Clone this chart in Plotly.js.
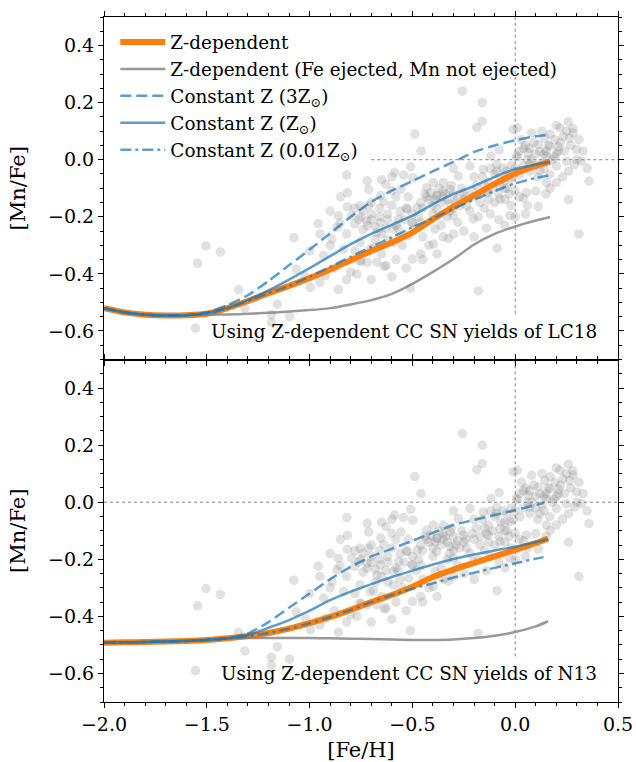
<!DOCTYPE html>
<html>
<head>
<meta charset="utf-8">
<script src="https://cdn.plot.ly/plotly-3.0.1.min.js"></script>
<style>html,body{margin:0;padding:0;background:#fff;}#chart{width:636px;height:762px;}</style>
</head>
<body>
<div id="chart"></div>
<script>
// ---------- data: observed stars ([Fe/H], [Mn/Fe]) ----------
const starFeH = [
-1.555,-1.545,-1.504,-1.434,-1.346,-1.315,-1.185,-1.157,-1.097,-1.077,-1.065,-0.958,-0.86,-0.51,-0.18,-0.088,0.31,0.26,-0.488,-0.458,-0.257,-0.16,-0.16,-0.187,
-0.996,-0.924,-0.932,-1.186,
-0.819,-0.72,-0.587,-0.543,-0.508,-0.498,-0.628,-0.556,-0.713,-0.816,-0.86,-0.852,-0.816,-0.795,-0.755,-0.713,-0.654,-0.64,-0.600,-0.58,-0.398,-0.43,-0.382,-0.477,-0.525,-0.46,-0.518,-0.46,-0.5,-0.628,-0.673,-0.755,-0.8,-0.891,-0.835,-0.867,-0.755,-0.673,-0.657,-0.72,-0.705,-0.592,-0.567,-0.502,-0.592,
-0.637,-0.75,-0.689,0.112,0.04,
-0.01,0.011,0.08,0.217,0.258,0.282,0.298,0.322,0.359,-0.078,-0.118,0.063,0.112,0.168,0.209,0.152,0.2,0.249,0.289,0.168,0.152,0.071,0.006,0.071,0.12,0.023,-0.042,-0.09,-0.155,-0.22,-0.277,-0.349,-0.317,-0.252,-0.131,-0.074,-0.026,-0.001,-0.074,-0.171,-0.236,-0.317,-0.382,-0.301,-0.204,-0.39,-0.398,-0.325,-0.026,0.055,0.265,0.233,0.144,0.193,
-0.41,-0.38,-0.35,-0.33,-0.3,-0.28,-0.26,-0.36,-0.42,-0.31,-0.44,-0.27,
-0.16,-0.13,-0.1,-0.06,-0.04,-0.12,-0.19,-0.08,-0.02,-0.14,-0.2,-0.05,
-0.75,-0.72,-0.7,-0.68,-0.74,-0.78,-0.66,
0.02,0.05,0.1,0.13,0.04,0.09,0.15,0.18,0.0,0.06,0.11,0.2,0.17,0.22,0.24,0.13,0.25,0.27,0.03,0.14,
-0.35,-0.3,-0.25,-0.2,-0.15,-0.1,-0.05,-0.02,-0.12,-0.22,-0.28,-0.33,-0.4,-0.18,-0.08,0.02,0.06,-0.36,
-0.78,-0.74,-0.7,-0.66,-0.62,-0.6,-0.56,-0.54,-0.5,-0.48,-0.58,-0.63,-0.52,-0.46,-0.45,-0.55,-0.62,-0.68,
-0.85,-0.9,-0.82,-0.78,-0.72,-0.65,-0.58,-0.53,-0.45,-0.42,-0.38,-0.35,-0.3,-0.25,-0.2,-0.14,-0.05,0.0,0.05,0.1,0.15,0.17,0.2,0.23,0.26,0.3,0.28,0.2,0.31,0.33,0.35,-0.65,-0.6,-0.3,
-0.9,-0.95,-1.0,-0.88,-0.82,-0.77,-0.7,-0.6,-0.95,-1.02,
-0.43,-0.39,-0.34,-0.29,-0.24,-0.45,-0.37,-0.32,-0.47,-0.4,
0.01,0.04,0.08,0.12,0.16,0.19,0.07,0.1,0.14,0.21,
-0.15,-0.11,-0.07,-0.03,-0.09,-0.17,-0.13,-0.05,-0.01,-0.21,
-0.62,-0.57,-0.53,-0.7,-0.65,-0.76,-0.5,-0.56
];
const starMnFe = [
-0.59,-0.363,-0.302,-0.323,-0.456,-0.521,-0.57,-0.506,-0.55,-0.273,-0.384,-0.224,-0.455,-0.45,-0.46,-0.31,-0.26,-0.14,0.09,0.03,0.24,0.2,0.135,0.114,
-0.447,-0.406,-0.336,-0.543,
-0.054,-0.074,-0.045,-0.054,-0.025,-0.063,-0.086,-0.104,-0.104,-0.116,-0.196,-0.222,-0.165,-0.196,-0.161,-0.161,-0.125,-0.148,-0.109,-0.13,-0.08,-0.098,-0.127,-0.168,-0.173,-0.22,-0.266,-0.33,-0.348,-0.371,-0.359,-0.353,-0.394,-0.278,-0.313,-0.237,-0.29,-0.255,-0.22,-0.231,-0.313,-0.243,-0.208,-0.22,-0.29,
-0.374,-0.356,-0.31,-0.164,-0.135,
0.106,0.112,0.094,0.112,0.133,0.094,0.036,-0.005,-0.075,0.034,0.013,0.024,0.053,0.047,0.045,0.013,-0.022,-0.005,-0.017,-0.051,-0.08,-0.017,0.013,-0.04,-0.04,-0.051,-0.04,-0.017,-0.034,-0.022,-0.057,-0.08,-0.104,-0.115,-0.115,-0.092,-0.069,-0.109,-0.138,-0.15,-0.161,-0.155,-0.173,-0.196,-0.208,-0.243,-0.295,-0.276,-0.196,-0.115,0.076,0.082,0.076,0.07,
-0.115,-0.125,-0.11,-0.14,-0.12,-0.135,-0.1,-0.15,-0.14,-0.09,-0.12,-0.16,
-0.06,-0.08,-0.05,-0.03,-0.1,-0.03,-0.09,-0.12,-0.02,-0.11,-0.06,-0.07,
-0.2,-0.215,-0.19,-0.235,-0.245,-0.225,-0.2,
0.03,0.05,0.02,-0.01,-0.02,0.06,0.03,0.0,-0.03,0.0,-0.06,0.02,0.09,0.06,0.03,0.1,0.1,0.05,0.07,-0.03,
-0.13,-0.17,-0.14,-0.13,-0.17,-0.15,-0.14,-0.16,-0.19,-0.18,-0.22,-0.2,-0.19,-0.2,-0.21,-0.13,-0.16,-0.23,
-0.17,-0.18,-0.15,-0.17,-0.19,-0.16,-0.18,-0.21,-0.19,-0.24,-0.23,-0.24,-0.13,-0.15,-0.27,-0.3,-0.28,-0.28,
-0.13,-0.18,-0.26,-0.32,-0.36,-0.33,-0.35,-0.38,-0.35,-0.3,-0.33,-0.27,-0.26,-0.25,-0.27,-0.24,-0.23,-0.2,-0.19,-0.11,-0.12,-0.1,-0.08,-0.06,-0.04,0.0,0.11,0.12,0.07,0.03,-0.03,-0.07,-0.06,-0.03,
-0.3,-0.26,-0.32,-0.38,-0.42,-0.4,-0.42,-0.41,-0.43,-0.41,
-0.13,-0.14,-0.12,-0.15,-0.13,-0.17,-0.1,-0.18,-0.2,-0.16,
0.01,0.04,0.0,0.03,0.05,0.01,0.04,-0.02,0.02,0.03,
-0.09,-0.1,-0.07,-0.12,-0.04,-0.12,-0.14,-0.1,-0.06,-0.11,
-0.21,-0.24,-0.17,-0.21,-0.26,-0.21,-0.22,-0.27
];

// ---------- model curves, LC18 yields (top panel) ----------
const fehLC_a = [-2.0,-1.9,-1.8,-1.7,-1.6,-1.5,-1.4,-1.3,-1.2,-1.1,-1.0,-0.9,-0.8,-0.7,-0.6,-0.5,-0.4,-0.3,-0.2,-0.1,0.0,0.1,0.17];
const fehLC_b = [-2.0,-1.9,-1.8,-1.7,-1.6,-1.5,-1.4,-1.3,-1.2,-1.1,-1.0,-0.9,-0.8,-0.7,-0.6,-0.5,-0.4,-0.3,-0.2,-0.1,0.0,0.1,0.15];
const lcZdep    = [-0.52,-0.535,-0.543,-0.546,-0.545,-0.54,-0.52,-0.495,-0.468,-0.442,-0.415,-0.385,-0.352,-0.32,-0.29,-0.255,-0.208,-0.165,-0.125,-0.085,-0.048,-0.022,-0.007];
const lcFeOnly  = [-0.52,-0.535,-0.543,-0.546,-0.545,-0.543,-0.542,-0.54,-0.536,-0.532,-0.527,-0.52,-0.507,-0.492,-0.47,-0.435,-0.393,-0.348,-0.297,-0.26,-0.234,-0.213,-0.201];
const lcZ3sun   = [-0.52,-0.535,-0.543,-0.546,-0.545,-0.535,-0.51,-0.475,-0.425,-0.37,-0.315,-0.258,-0.2,-0.148,-0.108,-0.075,-0.04,-0.008,0.027,0.05,0.068,0.082,0.086];
const lcZsun    = [-0.52,-0.535,-0.543,-0.546,-0.545,-0.537,-0.52,-0.492,-0.458,-0.42,-0.38,-0.338,-0.296,-0.26,-0.228,-0.196,-0.156,-0.12,-0.092,-0.06,-0.033,-0.017,-0.007];
const lcZ001sun = [-0.52,-0.535,-0.543,-0.546,-0.545,-0.54,-0.52,-0.495,-0.468,-0.442,-0.41,-0.375,-0.34,-0.305,-0.272,-0.237,-0.205,-0.172,-0.14,-0.11,-0.083,-0.064,-0.054];

// ---------- model curves, N13 yields (bottom panel) ----------
const fehN_a = [-2.0,-1.9,-1.8,-1.7,-1.6,-1.5,-1.4,-1.3,-1.2,-1.1,-1.0,-0.9,-0.8,-0.7,-0.6,-0.5,-0.4,-0.3,-0.2,-0.1,0.0,0.1,0.16];
const fehN_b = [-2.0,-1.9,-1.8,-1.7,-1.6,-1.5,-1.4,-1.3,-1.2,-1.1,-1.0,-0.9,-0.8,-0.7,-0.6,-0.5,-0.4,-0.3,-0.2,-0.1,0.0,0.1,0.14];
const fehN_c = [-2.0,-1.9,-1.8,-1.7,-1.6,-1.5,-1.4,-1.3,-1.2,-1.1,-1.0,-0.9,-0.8,-0.7,-0.6,-0.5,-0.4,-0.3,-0.2,-0.1,0.0,0.1,0.155];
const nZdep    = [-0.492,-0.491,-0.49,-0.488,-0.486,-0.483,-0.477,-0.469,-0.458,-0.443,-0.424,-0.402,-0.377,-0.35,-0.325,-0.296,-0.262,-0.236,-0.213,-0.19,-0.167,-0.143,-0.127];
const nFeOnly  = [-0.492,-0.491,-0.49,-0.488,-0.485,-0.481,-0.477,-0.476,-0.476,-0.476,-0.476,-0.477,-0.478,-0.479,-0.481,-0.483,-0.483,-0.481,-0.476,-0.468,-0.455,-0.435,-0.417];
const nZ3sun   = [-0.492,-0.491,-0.49,-0.488,-0.486,-0.483,-0.477,-0.46,-0.42,-0.37,-0.32,-0.27,-0.226,-0.19,-0.163,-0.135,-0.107,-0.08,-0.062,-0.045,-0.028,-0.01,-0.002];
const nZsun    = [-0.492,-0.491,-0.49,-0.488,-0.486,-0.483,-0.477,-0.465,-0.44,-0.413,-0.38,-0.343,-0.313,-0.287,-0.262,-0.24,-0.218,-0.199,-0.183,-0.169,-0.156,-0.14,-0.13];
const nZ001sun = [-0.492,-0.491,-0.49,-0.488,-0.486,-0.483,-0.477,-0.469,-0.458,-0.443,-0.424,-0.402,-0.377,-0.35,-0.325,-0.303,-0.284,-0.264,-0.247,-0.23,-0.214,-0.198,-0.19];

// ---------- labels ----------
const seriesNames = ['Z-dependent','Z-dependent (Fe ejected, Mn not ejected)','Constant Z (3Z<sub>⊙</sub>)','Constant Z (Z<sub>⊙</sub>)','Constant Z (0.01Z<sub>⊙</sub>)'];
const panelLabels = ['Using Z-dependent CC SN yields of LC18','Using Z-dependent CC SN yields of N13'];
const axisTitles = {x:'[Fe/H]', y:'[Mn/Fe]'};

// ---------- styling ----------
const FONT = 'DejaVu Serif, serif';
const ORANGE = '#ff7f0e';
const GRAY = 'rgba(128,128,128,0.8)';
const BLUE = 'rgba(31,119,180,0.72)';
const styles = [
  {color: ORANGE, width: 6, dash: 'solid'},
  {color: GRAY, width: 2.5, dash: 'solid'},
  {color: BLUE, width: 2.5, dash: '11px,5px'},
  {color: BLUE, width: 2.5, dash: 'solid'},
  {color: BLUE, width: 2.5, dash: '11px,4px,3px,4px'}
];

const traces = [];
function addPanel(xa, ya, xs, ys, showLegend) {
  traces.push({type:'scatter', mode:'markers', x: starFeH, y: starMnFe, xaxis: xa, yaxis: ya,
    marker:{size:9.5, color:'rgba(128,128,128,0.24)', line:{width:0}}, showlegend:false, hoverinfo:'skip'});
  for (let i = 0; i < 5; i++) {
    traces.push({type:'scatter', mode:'lines', x: xs[i], y: ys[i], xaxis: xa, yaxis: ya,
      name: seriesNames[i], legendgroup: 'g'+i, showlegend: showLegend,
      line:{color: styles[i].color, width: styles[i].width, dash: styles[i].dash, shape:'spline', smoothing:0.6}});
  }
}
addPanel('x2','y', [fehLC_a, fehLC_a, fehLC_b, fehLC_a, fehLC_a], [lcZdep, lcFeOnly, lcZ3sun, lcZsun, lcZ001sun], true);
addPanel('x','y2', [fehN_a, fehN_a, fehN_b, fehN_a, fehN_c], [nZdep, nFeOnly, nZ3sun, nZsun, nZ001sun], false);

// reference guide lines
const refTop = {hFrom:-0.7, vTo:-0.54};
const refBot = {hFrom:-2.0, vTo:-0.54};
const dotLine = {color:'rgba(120,120,120,0.9)', width:1, dash:'dot'};
const shapes = [
  {type:'line', xref:'x2', yref:'y', x0:refTop.hFrom, x1:0.5, y0:0, y1:0, line:dotLine, layer:'below'},
  {type:'line', xref:'x2', yref:'y', x0:0, x1:0, y0:refTop.vTo, y1:0.5, line:dotLine, layer:'below'},
  {type:'line', xref:'x', yref:'y2', x0:refBot.hFrom, x1:0.5, y0:0, y1:0, line:dotLine, layer:'below'},
  {type:'line', xref:'x', yref:'y2', x0:0, x1:0, y0:refBot.vTo, y1:0.5, line:dotLine, layer:'below'}
];

const tickFont = {family: FONT, size: 19, color:'#000'};
function xAxis(extra) {
  return Object.assign({range:[-2,0.5], dtick:0.5, tick0:0, tickformat:'.1f', ticks:'outside', ticklen:5, tickwidth:1,
    tickcolor:'#000', showline:true, linecolor:'#000', linewidth:1, mirror:'allticks', showgrid:false, zeroline:false,
    minor:{dtick:0.1, tick0:0, ticks:'outside', ticklen:3, tickwidth:1, tickcolor:'#000', showgrid:false},
    tickfont: tickFont}, extra);
}
function yAxis(extra) {
  return Object.assign({range:[-0.7,0.5], dtick:0.2, tick0:0, tickformat:'.1f', ticks:'outside', ticklen:5, tickwidth:1,
    tickcolor:'#000', showline:true, linecolor:'#000', linewidth:1, mirror:'allticks', showgrid:false, zeroline:false,
    minor:{dtick:0.05, tick0:0, ticks:'outside', ticklen:3, tickwidth:1, tickcolor:'#000', showgrid:false},
    tickfont: tickFont, title:{text: axisTitles.y, font:{family: FONT, size: 21}, standoff: 16}}, extra);
}

const layout = {
  width: 636, height: 762,
  margin: {l:104, r:18, t:17, b:60},
  paper_bgcolor:'#fff', plot_bgcolor:'#fff',
  font: {family: FONT, color:'#000'},
  xaxis: xAxis({anchor:'y2', domain:[0,1], title:{text: axisTitles.x, font:{family: FONT, size: 21}, standoff: 8}}),
  xaxis2: xAxis({anchor:'y', domain:[0,1], matches:'x', showticklabels:false}),
  yaxis: yAxis({anchor:'x2', domain:[0.5,1]}),
  yaxis2: yAxis({anchor:'x', domain:[0,0.5]}),
  showlegend: true,
  legend: {x:0.022, y:0.9905, xanchor:'left', yanchor:'top', bgcolor:'rgba(0,0,0,0)', borderwidth:0,
    font:{family: FONT, size:18.4, color:'#000'}, itemwidth:45, tracegroupgap:2, traceorder:'normal'},
  shapes: shapes,
  annotations: [
    {xref:'paper', yref:'y', x:0.963, y:-0.603, xanchor:'right', yanchor:'middle', showarrow:false,
     text: panelLabels[0], font:{family: FONT, size:18.4, color:'#000'}},
    {xref:'paper', yref:'y2', x:0.963, y:-0.601, xanchor:'right', yanchor:'middle', showarrow:false,
     text: panelLabels[1], font:{family: FONT, size:18.4, color:'#000'}}
  ]
};

Plotly.newPlot('chart', traces, layout, {displayModeBar:false, staticPlot:true});
</script>
</body>
</html>
